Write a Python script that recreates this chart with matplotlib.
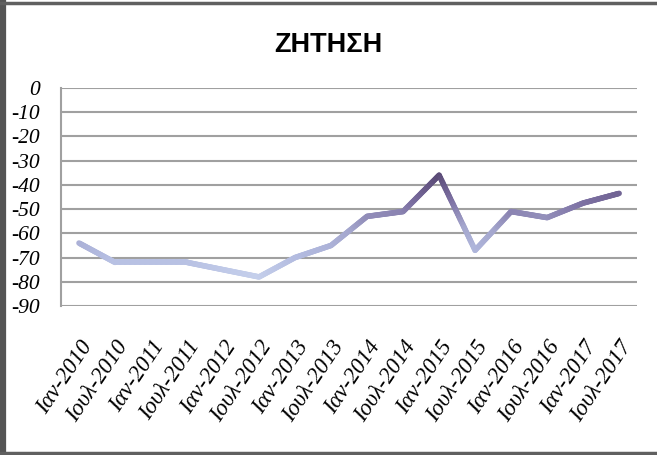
import numpy as np
import matplotlib
matplotlib.use("Agg")
import matplotlib.pyplot as plt
from matplotlib.collections import LineCollection
from matplotlib.colors import LinearSegmentedColormap, Normalize
from matplotlib.lines import Line2D

# labels and values
labels = ["Ιαν-2010", "Ιουλ-2010", "Ιαν-2011", "Ιουλ-2011", "Ιαν-2012", "Ιουλ-2012",
          "Ιαν-2013", "Ιουλ-2013", "Ιαν-2014", "Ιουλ-2014", "Ιαν-2015", "Ιουλ-2015",
          "Ιαν-2016", "Ιουλ-2016", "Ιαν-2017", "Ιουλ-2017"]
values = [-64, -72, -72, -72, -75, -78, -70, -65, -53, -51, -36, -67, -51, -53.5, -47.5, -43.5]
yticks = list(range(-90, 1, 10))

fig = plt.figure(figsize=(6.57, 4.55), dpi=100)
ax = fig.add_axes([0.0928, 0.3275, 0.877, 0.479])

x = np.arange(len(values))
y = np.array(values, dtype=float)

# colour follows the value: light blue low, dark purple high
cmap = LinearSegmentedColormap.from_list(
    "demand", ["#c9d4ee", "#b2badf", "#a4a6cd", "#7c70a2", "#5a4a76"])
norm = Normalize(vmin=-80, vmax=-36)

segs, cols = [], []
for i in range(len(x) - 1):
    t = np.linspace(0, 1, 30)
    xs = x[i] + (x[i + 1] - x[i]) * t
    ys = y[i] + (y[i + 1] - y[i]) * t
    pts = np.column_stack([xs, ys])
    for j in range(len(t) - 1):
        segs.append(pts[j:j + 2])
        cols.append(cmap(norm((ys[j] + ys[j + 1]) / 2)))
lc = LineCollection(segs, colors=cols, linewidths=4, capstyle="round", joinstyle="round", zorder=3)
ax.add_collection(lc)

ax.set_xlim(-0.5, len(values) - 0.5)
ax.set_ylim(-90, 0)
ax.set_yticks(yticks)
ax.set_yticklabels([str(v) for v in yticks], fontfamily="Liberation Serif", fontstyle="italic", fontsize=15.5)
ax.set_xticks(x)
ax.set_xticklabels(labels, fontfamily="Liberation Serif", fontstyle="italic", fontsize=16.5,
                   rotation=56, ha="right", va="top", rotation_mode="anchor")
ax.tick_params(axis="both", length=0)
ax.tick_params(axis="y", pad=15)
ax.tick_params(axis="x", pad=22)

ax.grid(axis="y", color="#a0a0a0", linewidth=1.5)
ax.set_axisbelow(True)
for s in ["top", "right", "bottom"]:
    ax.spines[s].set_visible(False)
ax.spines["left"].set_color("#a0a0a0")
ax.spines["left"].set_linewidth(1.5)

fig.text(0.5, 0.902, "ΖΗΤΗΣΗ", ha="center", va="center", fontsize=19.5, fontweight="bold",
         fontfamily="Liberation Sans")

# outer frame
fig.add_artist(Line2D([0.004, 0.004], [0, 1], color="#555555", linewidth=4.5, transform=fig.transFigure))
fig.add_artist(Line2D([0, 1], [0.994, 0.994], color="#606060", linewidth=2.5, transform=fig.transFigure))
fig.add_artist(Line2D([0, 1], [0.004, 0.004], color="#606060", linewidth=2.5, transform=fig.transFigure))

fig.savefig("out.png", dpi=100)
